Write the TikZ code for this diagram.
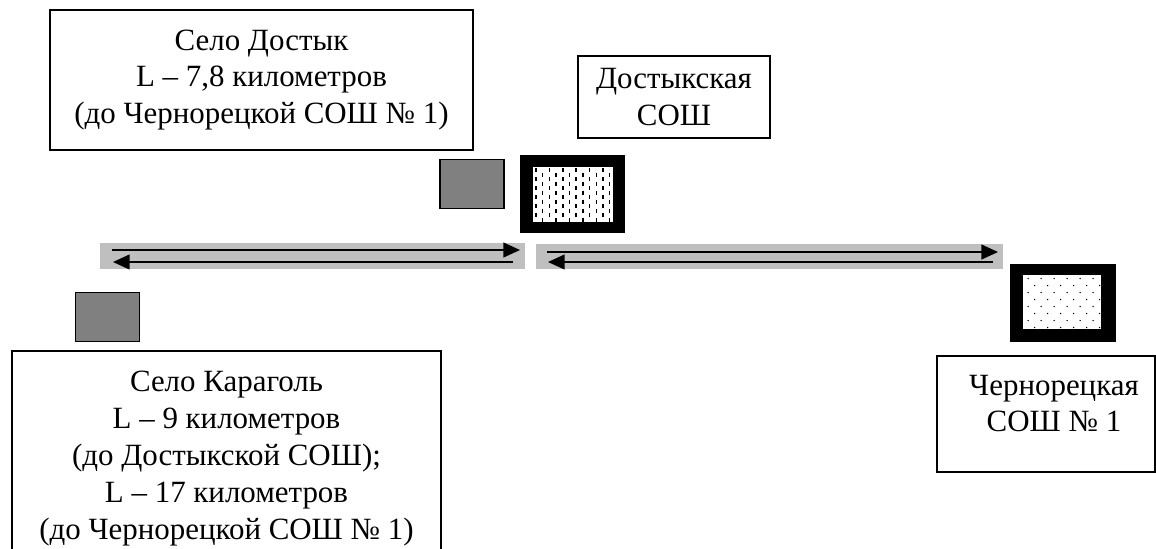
\documentclass[tikz,border=0pt]{standalone}
\usepackage{fontspec}
\setmainfont{Liberation Serif}
\usetikzlibrary{arrows.meta,positioning}

\begin{document}
\begin{tikzpicture}[x=0.02cm,y=-0.02cm,
    frame/.style={draw,line width=0.8pt,fill=white,inner sep=0pt},
    caption/.style={align=center,font=\fontsize{17.6}{21}\selectfont,inner sep=0pt},
    village/.style={draw,line width=0.9pt,fill=black!50,minimum width=1.28cm,minimum height=0.98cm,inner sep=0pt},
    road/.style={fill=black!25,inner sep=0pt,minimum height=0.51cm},
    lane/.style={line width=0.8pt,-{Triangle[length=9.5pt,width=8.5pt]}},
  ]
  \useasboundingbox (0,0) rectangle (1156,548);
  \clip (0,0) rectangle (1156,548);

  % text boxes
  \node[frame,caption,minimum width=8.46cm,minimum height=2.8cm] (dostyk) at (261.5,80)
    {Село Достык\\L – 7,8 километров\\(до Чернорецкой СОШ № 1)};
  \node[frame,caption,minimum width=3.84cm,minimum height=1.64cm] (dschool) at (674,97)
    {Достыкская\\СОШ};
  \node[frame,caption,minimum width=8.58cm,minimum height=4.3cm] (karagol) at (226.5,458.5)
    {Село Караголь\\L – 9 километров\\(до Достыкской СОШ);\\L – 17 километров\\(до Чернорецкой СОШ № 1)};
  \node[frame,minimum width=4.36cm,minimum height=2.32cm] (cschool) at (1046,414) {};
  \node[caption] (ctext) at (1054,403.5) {Чернорецкая\\СОШ № 1};

  % villages
  \node[village] (vdostyk) at (472,184) {};
  \node[village] (vkaragol) at (107.5,317) {};

  % schools
  \fill (520,155) rectangle (625,233);
  \fill[white] (533,167) rectangle (613,222);
  \foreach \i in {0,...,11}
    \foreach \j in {0,...,5}
      \draw[line width=0.85pt] ({536+6.7*\i},{168+9*\j+4.5*mod(\i,2)}) -- ++(0,4.2);
  \fill (1010,264) rectangle (1116,342);
  \fill[white] (1023,275) rectangle (1101,329);
  \foreach \i in {0,...,5}
    \foreach \j in {0,...,7}
      \fill ({1028+13*\i+6.5*mod(\j,2)},{278.5+7*\j}) circle (0.75);

  % roads
  \node[road,minimum width=8.5cm] (rleft) at (312.5,256) {};
  \node[road,minimum width=9.34cm] (rright) at (769.5,256.5) {};
  \coordinate (a1) at (112,250);
  \coordinate (a2) at (520,250);
  \coordinate (b1) at (513,262);
  \coordinate (b2) at (113,262);
  \coordinate (c1) at (547,252);
  \coordinate (c2) at (998,252);
  \coordinate (d1) at (993,262);
  \coordinate (d2) at (548,262);
  \draw[lane] (a1) -- (a2);
  \draw[lane] (b1) -- (b2);
  \draw[lane] (c1) -- (c2);
  \draw[lane] (d1) -- (d2);
\end{tikzpicture}
\end{document}
